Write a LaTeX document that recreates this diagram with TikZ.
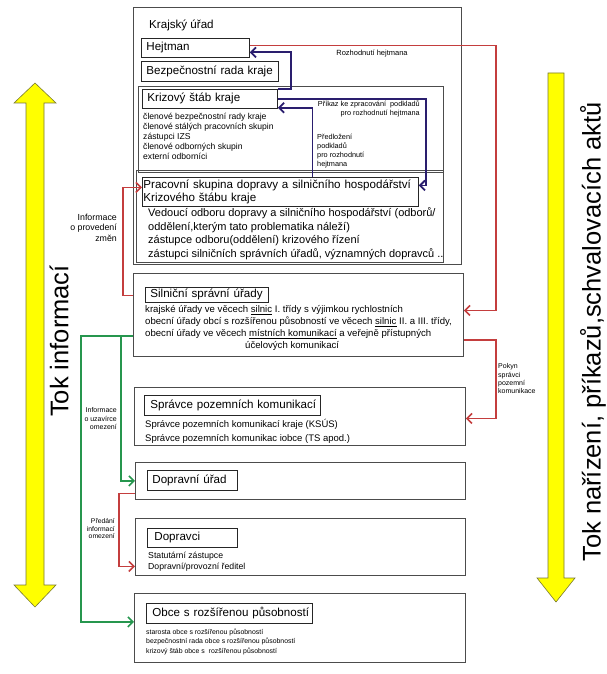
\documentclass[tikz,border=0pt]{standalone}
\usepackage{fontspec}
\setmainfont{Liberation Sans}
\usetikzlibrary{arrows.meta}
\usetikzlibrary{calc}
\definecolor{navyline}{RGB}{42,30,110}
\definecolor{redline}{RGB}{196,62,62}
\definecolor{greenline}{RGB}{38,150,78}
\definecolor{arrowyellow}{RGB}{255,255,0}
\definecolor{arrowedge}{RGB}{120,120,50}
\tikzset{groupbox/.style={draw=black!70, line width=0.9pt, anchor=north west, inner sep=0pt}}
\tikzset{titlebox/.style={draw=black!85, line width=0.8pt, anchor=north west, align=left, inner xsep=5pt, inner ysep=0pt, font=\fontsize{11.6}{13}\selectfont}}
\tikzset{bodytext/.style={anchor=north west, align=left, inner sep=0pt}}
\tikzset{flowlabel/.style={inner sep=0pt, font=\fontsize{7.3}{9}\selectfont}}
\tikzset{sidetext/.style={rotate=90, inner sep=0pt, font=\fontsize{25.5}{28}\selectfont}}
\tikzset{yellowarrow/.style={draw=arrowedge, line width=0.6pt, fill=arrowyellow}}
\tikzset{navyarrow/.style={draw=navyline, line width=1.8pt, -{Straight Barb[length=5pt,width=10pt]}}}
\tikzset{redarrow/.style={draw=redline, line width=1.6pt, -{Straight Barb[length=5pt,width=10pt]}}}
\tikzset{greenarrow/.style={draw=greenline, line width=1.6pt, -{Straight Barb[length=5pt,width=10pt]}}}

\begin{document}
\begin{tikzpicture}[x=1pt,y=-1pt]
\useasboundingbox (0,0) rectangle (607,674);

\draw[yellowarrow] (26,103) -- (14,103) -- (35,83) -- (56,103) -- (44,103) -- (44,585) -- (56,585) -- (35,607) -- (14,585) -- (26,585) -- cycle;
\draw[yellowarrow] (548,73) -- (564,73) -- (564,578) -- (575,578) -- (556,602) -- (537,578) -- (548,578) -- cycle;
\node[sidetext] (tokinfo) at (59,341) {Tok informací};
\node[sidetext] (toknar) at (593,332) {Tok nařízení, příkazů,schvalovacích aktů};

\node[groupbox, minimum width=328pt, minimum height=257pt] (krajsky) at (133,7) {};
\node[anchor=west, inner sep=0pt, font=\fontsize{11.6}{13}\selectfont] (krajskytitle) at (149,25) {Krajský úřad};
\node[titlebox, text width=98pt, minimum height=19pt] (hejtman) at (141,38) {\mbox{Hejtman}};
\node[titlebox, text width=127pt, minimum height=20pt] (bezp) at (141,61) {\mbox{Bezpečnostní rada kraje}};

\node[groupbox, minimum width=305pt, minimum height=86pt] (krizgroup) at (138,86) {};
\node[titlebox, text width=125pt, minimum height=19pt] (kriz) at (142,89) {\mbox{Krizový štáb kraje}};
\node[bodytext, font=\fontsize{8.6}{10.2}\selectfont] (krizlist) at (143,112.5) {členové bezpečnostní rady kraje\\ členové stálých pracovních skupin\\ zástupci IZS\\ členové odborných skupin\\ externí odborníci};

\node[groupbox, line width=1.2pt, minimum width=307pt, minimum height=92pt] (pracgroup) at (136,170) {};
\node[titlebox, inner xsep=1pt, text width=274pt, minimum height=29pt] (prac) at (142,177) {\mbox{Pracovní skupina dopravy a silničního hospodářství}\\ \mbox{Krizového štábu kraje}};
\node[bodytext, font=\fontsize{11}{13.7}\selectfont] (praclist) at (148,207.5) {Vedoucí odboru dopravy a silničního hospodářství (odborů/\\ oddělení,kterým tato problematika náleží)\\ zástupce odboru(oddělení) krizového řízení\\ zástupci silničních správních úřadů, významných dopravců ..};

\node[groupbox, minimum width=330pt, minimum height=83pt] (silgroup) at (133,273) {};
\node[titlebox, text width=113pt, minimum height=15pt] (sil) at (145,287) {\mbox{Silniční správní úřady}};
\node[bodytext, font=\fontsize{9.6}{12}\selectfont] (sillist) at (145,305.5) {krajské úřady ve věcech \underline{silnic} I. třídy s výjimkou rychlostních\\ obecní úřady obcí s rozšířenou působností ve věcech \underline{silnic} II. a III. třídy,\\ obecní úřady ve věcech \underline{místních komunikací} a veřejně přístupných\\ \hspace*{100pt}účelových komunikací};

\node[groupbox, minimum width=331pt, minimum height=58pt] (sprgroup) at (134,387) {};
\node[titlebox, inner xsep=6pt, text width=164pt, minimum height=20pt] (spr) at (144,395) {\mbox{Správce pozemních komunikací}};
\node[bodytext, font=\fontsize{9.5}{13.7}\selectfont] (sprlist) at (145,419.5) {Správce pozemních komunikací kraje (KSÚS)\\ Správce pozemních komunikac iobce (TS apod.)};

\node[groupbox, minimum width=330pt, minimum height=37pt] (doprgroup) at (135,462) {};
\node[titlebox, text width=80pt, minimum height=20pt] (dopr) at (147,470) {\mbox{Dopravní úřad}};

\node[groupbox, minimum width=330pt, minimum height=57pt] (dopcigroup) at (135,518) {};
\node[titlebox, inner xsep=7pt, text width=76pt, minimum height=19pt] (dopci) at (147,528) {\mbox{Dopravci}};
\node[bodytext, font=\fontsize{8.7}{11}\selectfont] (dopcilist) at (148,551.5) {Statutární zástupce\\ Dopravní/provozní ředitel};

\node[groupbox, minimum width=331pt, minimum height=69pt] (obcegroup) at (134,593) {};
\node[titlebox, inner xsep=6pt, text width=154pt, minimum height=20pt] (obce) at (146,603) {\mbox{Obce s rozšířenou působností}};
\node[bodytext, font=\fontsize{6.9}{9.7}\selectfont] (obcelist) at (146,628.5) {starosta obce s rozšířenou působností\\ bezpečnostní rada obce s rozšířenou působností\\ krizový štáb obce s \ rozšířenou působností};

\draw[navyarrow] (kriz.north east) -- ++(13,0) |- ([yshift=-4.5pt]hejtman.east);
\draw[navyarrow] ([xshift=32pt]prac.north) |- ([yshift=1pt]kriz.south east);
\draw[navyarrow] (kriz.east) -- ++(148,0) |- ([yshift=6.5pt]prac.east);
\draw[redarrow] ([yshift=2.5pt]hejtman.east) -- ++(246,0) |- ([yshift=4.5pt]silgroup.east);
\draw[redarrow] ([yshift=19.5pt]silgroup.west) -- ++(-10,0) |- ([yshift=4.5pt]prac.west);
\draw[redarrow] ([yshift=-25pt]silgroup.east) -- ++(32,0) |- ([yshift=-2pt]sprgroup.east);
\draw[redarrow] ([yshift=-12.5pt]doprgroup.west) -- ++(-16,0) |- ([yshift=-19.5pt]dopcigroup.west);
\draw[greenarrow] ([yshift=-21pt]silgroup.west) -- ++(-12,0) |- (doprgroup.west);
\draw[greenarrow] ([yshift=-21pt]silgroup.west) -- ++(-52,0) |- ([yshift=6pt]obcegroup.west);

\node[flowlabel, font=\fontsize{7.5}{9}\selectfont] (rozhlabel) at (372,54) {Rozhodnutí hejtmana};
\node[flowlabel, anchor=north east, align=right] (prikazlabel) at (420,100.5) {Příkaz ke zpracování \ podkladů\\ pro rozhodnutí hejtmana};
\node[flowlabel, anchor=north west, align=left] (predllabel) at (317,133.5) {Předložení\\ podkladů\\ pro rozhodnutí\\ hejtmana};
\node[flowlabel, anchor=north east, align=right, font=\fontsize{8.8}{10.5}\selectfont] (zmenlabel) at (117,213.5) {Informace\\ o provedení\\ změn};
\node[flowlabel, anchor=north west, align=left, font=\fontsize{7}{8.4}\selectfont] (pokynlabel) at (498,363.5) {Pokyn\\ správci\\ pozemní\\ komunikace};
\node[flowlabel, anchor=north east, align=right, font=\fontsize{7}{8.5}\selectfont] (uzavlabel) at (117,407.5) {Informace\\ o uzavírce\\ omezení};
\node[flowlabel, anchor=north east, align=right, font=\fontsize{6.8}{7.6}\selectfont] (predanilabel) at (115,518.5) {Předání\\ informací\\ omezení};

\end{tikzpicture}
\end{document}
